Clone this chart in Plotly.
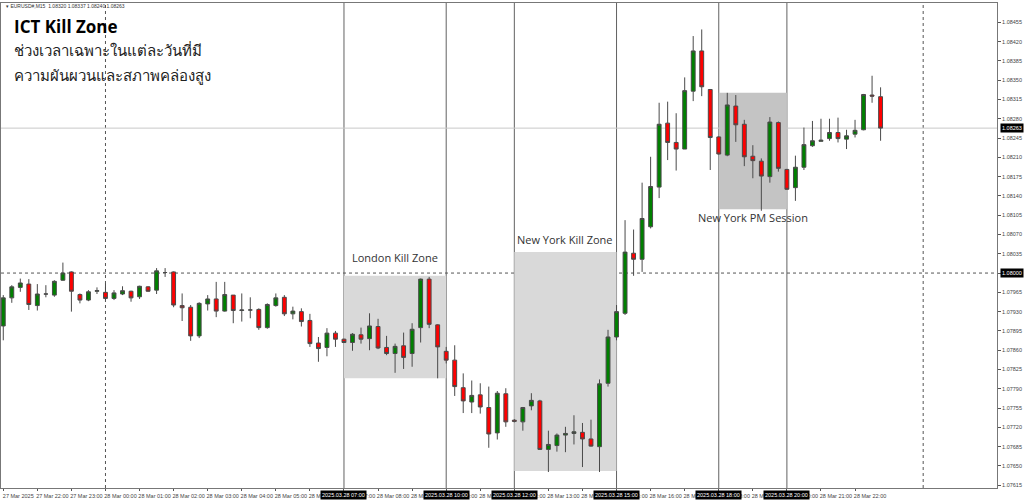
import pandas as pd
import plotly.graph_objects as go

# ---------------- data ----------------
START = "2025-03-27 21:00"   # first M15 bar
OPEN = [1.07904, 1.07955, 1.07974, 1.07980, 1.07941, 1.07962, 1.07960, 1.07987, 1.08002, 1.07961,
        1.07951, 1.07967, 1.07965, 1.07954, 1.07962, 1.07967, 1.07957, 1.07975, 1.07969, 1.08001,
        1.08002, 1.07941, 1.07938, 1.07886, 1.07944, 1.07953, 1.07931, 1.07960, 1.07932, 1.07933,
        1.07934, 1.07901, 1.07941, 1.07956, 1.07926, 1.07930, 1.07914, 1.07873, 1.07865, 1.07891,
        1.07880, 1.07874, 1.07888, 1.07881, 1.07903, 1.07865, 1.07854, 1.07868, 1.07854, 1.07901,
        1.07989, 1.07906, 1.07858, 1.07842, 1.07792, 1.07766, 1.07779, 1.07756, 1.07710, 1.07781,
        1.07733, 1.07730, 1.07759, 1.07768, 1.07680, 1.07687, 1.07706, 1.07709, 1.07711, 1.07699,
        1.07685, 1.07800, 1.07884, 1.07927, 1.08036, 1.08025, 1.08084, 1.08156, 1.08272, 1.08237,
        1.08225, 1.08330, 1.08403, 1.08333, 1.08247, 1.08214, 1.08303, 1.08270, 1.08212, 1.08203,
        1.08175, 1.08273, 1.08188, 1.08155, 1.08192, 1.08231, 1.08239, 1.08244, 1.08255, 1.08243,
        1.08252, 1.08260, 1.08323, 1.08320]
HIGH = [1.07960, 1.07978, 1.07990, 1.07989, 1.07980, 1.07978, 1.07987, 1.08019, 1.08003, 1.07963,
        1.07969, 1.07974, 1.07981, 1.07969, 1.07976, 1.07968, 1.07977, 1.07976, 1.08009, 1.08009,
        1.08003, 1.07963, 1.07942, 1.07947, 1.07960, 1.07984, 1.07984, 1.07960, 1.07963, 1.07956,
        1.07936, 1.07945, 1.07963, 1.07960, 1.07939, 1.07936, 1.07926, 1.07884, 1.07900, 1.07895,
        1.07881, 1.07891, 1.07901, 1.07927, 1.07917, 1.07886, 1.07872, 1.07892, 1.07909, 1.07990,
        1.07993, 1.07907, 1.07866, 1.07869, 1.07818, 1.07805, 1.07800, 1.07794, 1.07786, 1.07791,
        1.07735, 1.07757, 1.07782, 1.07770, 1.07714, 1.07709, 1.07721, 1.07742, 1.07728, 1.07734,
        1.07807, 1.07897, 1.07942, 1.08096, 1.08079, 1.08164, 1.08211, 1.08309, 1.08311, 1.08290,
        1.08355, 1.08430, 1.08442, 1.08334, 1.08248, 1.08327, 1.08323, 1.08278, 1.08232, 1.08208,
        1.08283, 1.08275, 1.08189, 1.08213, 1.08264, 1.08276, 1.08280, 1.08280, 1.08282, 1.08260,
        1.08278, 1.08325, 1.08358, 1.08337]
LOW = [1.07878, 1.07946, 1.07966, 1.07933, 1.07932, 1.07956, 1.07957, 1.07986, 1.07930, 1.07945,
       1.07949, 1.07962, 1.07951, 1.07951, 1.07960, 1.07948, 1.07953, 1.07966, 1.07962, 1.07993,
       1.07938, 1.07913, 1.07877, 1.07882, 1.07932, 1.07920, 1.07930, 1.07909, 1.07912, 1.07918,
       1.07897, 1.07899, 1.07939, 1.07922, 1.07916, 1.07903, 1.07866, 1.07839, 1.07849, 1.07866,
       1.07873, 1.07859, 1.07872, 1.07860, 1.07862, 1.07851, 1.07819, 1.07826, 1.07830, 1.07874,
       1.07900, 1.07809, 1.07836, 1.07777, 1.07746, 1.07746, 1.07745, 1.07683, 1.07698, 1.07721,
       1.07729, 1.07714, 1.07751, 1.07679, 1.07639, 1.07676, 1.07675, 1.07689, 1.07648, 1.07685,
       1.07639, 1.07794, 1.07878, 1.07924, 1.07995, 1.08002, 1.08081, 1.08136, 1.08205, 1.08186,
       1.08225, 1.08312, 1.08321, 1.08187, 1.08215, 1.08212, 1.08238, 1.08194, 1.08172, 1.08113,
       1.08164, 1.08184, 1.08151, 1.08131, 1.08187, 1.08229, 1.08239, 1.08240, 1.08237, 1.08225,
       1.08246, 1.08259, 1.08309, 1.08240]
CLOSE = [1.07955, 1.07975, 1.07982, 1.07943, 1.07962, 1.07962, 1.07985, 1.08000, 1.07967, 1.07951,
         1.07966, 1.07968, 1.07954, 1.07964, 1.07968, 1.07955, 1.07976, 1.07967, 1.08004, 1.08001,
         1.07942, 1.07937, 1.07886, 1.07945, 1.07953, 1.07931, 1.07961, 1.07932, 1.07933, 1.07933,
         1.07901, 1.07943, 1.07955, 1.07926, 1.07931, 1.07912, 1.07872, 1.07863, 1.07891, 1.07880,
         1.07874, 1.07889, 1.07880, 1.07904, 1.07864, 1.07854, 1.07867, 1.07847, 1.07898, 1.07989,
         1.07907, 1.07866, 1.07842, 1.07794, 1.07768, 1.07778, 1.07757, 1.07708, 1.07782, 1.07730,
         1.07731, 1.07756, 1.07769, 1.07680, 1.07689, 1.07706, 1.07709, 1.07712, 1.07699, 1.07686,
         1.07799, 1.07884, 1.07930, 1.08038, 1.08025, 1.08099, 1.08157, 1.08270, 1.08237, 1.08225,
         1.08331, 1.08403, 1.08338, 1.08246, 1.08216, 1.08305, 1.08269, 1.08211, 1.08204, 1.08176,
         1.08274, 1.08190, 1.08152, 1.08192, 1.08233, 1.08240, 1.08241, 1.08255, 1.08244, 1.08249,
         1.08259, 1.08324, 1.08321, 1.08263]

PRICE_TICKS = [1.07615, 1.07650, 1.07685, 1.07720, 1.07755, 1.07790, 1.07825, 1.07860, 1.07895,
               1.07930, 1.07965, 1.08000, 1.08035, 1.08070, 1.08105, 1.08140, 1.08175, 1.08210,
               1.08245, 1.08280, 1.08315, 1.08350, 1.08385, 1.08420, 1.08455]
CURRENT_PRICE = 1.08263
LEVEL_LINE = 1.08000

ZONES = [  # name, start, end, low, high, fill, label price
    ("London Kill Zone", "2025-03-28 07:00", "2025-03-28 10:00", 1.07809, 1.07995, "#d9d9d9", 1.08029),
    ("New York Kill Zone", "2025-03-28 12:00", "2025-03-28 15:00", 1.07641, 1.08038, "#d9d9d9", 1.08060),
    ("New York PM Session", "2025-03-28 18:00", "2025-03-28 20:00", 1.08116, 1.08327, "#c4c4c4", 1.08100),
]
DAY_SEPARATORS = ["2025-03-28 00:00", "2025-03-29 00:00"]
X_RANGE = ["2025-03-27 20:56", "2025-03-29 02:10"]
Y_RANGE = [1.07610, 1.08490]

times = pd.date_range(START, periods=len(OPEN), freq="15min")

SMALL = "Liberation Sans, Arial, sans-serif"

# ---------------- figure ----------------
fig = go.Figure()
fig.add_trace(go.Candlestick(
    x=times, open=OPEN, high=HIGH, low=LOW, close=CLOSE,
    increasing=dict(line=dict(color="#4a4a4a", width=1), fillcolor="#008000"),
    decreasing=dict(line=dict(color="#4a4a4a", width=1), fillcolor="#ff0000"),
    whiskerwidth=0, showlegend=False, hoverinfo="skip",
))

# zones
for name, t0, t1, lo, hi, fill, lab_y in ZONES:
    fig.add_shape(type="rect", xref="x", yref="y", x0=t0, x1=t1, y0=lo, y1=hi,
                  fillcolor=fill, line=dict(width=0), layer="below")
    for t in (t0, t1):
        fig.add_shape(type="line", xref="x", yref="paper", x0=t, x1=t, y0=0, y1=1,
                      line=dict(color="#626262", width=1), layer="below")
    mid = pd.Timestamp(t0) + (pd.Timestamp(t1) - pd.Timestamp(t0)) / 2
    fig.add_annotation(x=mid, y=lab_y, xref="x", yref="y", text=name, showarrow=False,
                       font=dict(family="Open Sans, sans-serif", size=11, color="#333333"))
    for t in (t0, t1):
        fig.add_annotation(x=t, y=0, xref="x", yref="paper", yanchor="top", yshift=-2,
                           text=pd.Timestamp(t).strftime("%Y.%m.%d %H:%M"), showarrow=False,
                           bgcolor="#000000", borderpad=1,
                           font=dict(family=SMALL, size=5.5, color="#ffffff"))

for t in DAY_SEPARATORS:
    fig.add_shape(type="line", xref="x", yref="paper", x0=t, x1=t, y0=0, y1=1,
                  line=dict(color="#555555", width=1, dash="dot"), layer="below")

fig.add_shape(type="line", xref="paper", yref="y", x0=0, x1=1, y0=CURRENT_PRICE, y1=CURRENT_PRICE,
              line=dict(color="#c8c8c8", width=1), layer="below")
fig.add_shape(type="line", xref="paper", yref="y", x0=0, x1=1, y0=LEVEL_LINE, y1=LEVEL_LINE,
              line=dict(color="#555555", width=1, dash="dot"), layer="below")

for p in (CURRENT_PRICE, LEVEL_LINE):
    fig.add_annotation(x=1, y=p, xref="paper", yref="y", xanchor="left", xshift=3,
                       text=f"{p:.5f}", showarrow=False, bgcolor="#000000", borderpad=1,
                       font=dict(family=SMALL, size=5.5, color="#ffffff"))

# title texts
fig.add_annotation(x=0, y=1, xref="paper", yref="paper", xanchor="left", yanchor="middle",
                   xshift=3, yshift=-3, showarrow=False,
                   text="▾ EURUSD#,M15  1.08320 1.08337 1.08240 1.08263",
                   font=dict(family=SMALL, size=5, color="#333333"))
fig.add_annotation(x=0, y=1, xref="paper", yref="paper", xanchor="left", yanchor="middle",
                   xshift=11, yshift=-23, showarrow=False, text="<b>ICT Kill Zone</b>",
                   font=dict(family="Open Sans, sans-serif", size=17, color="#000000"))
fig.add_annotation(x=0, y=1, xref="paper", yref="paper", xanchor="left", yanchor="middle",
                   xshift=11, yshift=-47, showarrow=False, text="ช่วงเวลาเฉพาะในแต่ละวันที่มี",
                   font=dict(family="Tahoma, Noto Sans, sans-serif", size=15, color="#222222"))
fig.add_annotation(x=0, y=1, xref="paper", yref="paper", xanchor="left", yanchor="middle",
                   xshift=11, yshift=-72, showarrow=False, text="ความผันผวนและสภาพคล่องสูง",
                   font=dict(family="Tahoma, Noto Sans, sans-serif", size=15, color="#222222"))

# x ticks (hourly)
tick_times = pd.date_range("2025-03-27 21:00", "2025-03-28 22:00", freq="h")
tick_text = [t.strftime("%d Mar %H:%M").lstrip("0") for t in tick_times]
tick_text[0] = "27 Mar 2025"

fig.update_layout(
    width=1024, height=501,
    margin=dict(l=1, r=27, t=3, b=13),
    paper_bgcolor="#ffffff", plot_bgcolor="#ffffff",
    xaxis=dict(range=X_RANGE, type="date", rangeslider=dict(visible=False),
               tickvals=list(tick_times), ticktext=tick_text, ticklabelshift=15,
               tickangle=0, ticks="outside", ticklen=2, tickcolor="#555555",
               tickfont=dict(family=SMALL, size=5.5, color="#444444"),
               showgrid=False, zeroline=False, showline=True, linecolor="#777777",
               mirror=True, linewidth=1),
    yaxis=dict(range=Y_RANGE, side="right", tickvals=PRICE_TICKS,
               ticktext=[f"{v:.5f}" for v in PRICE_TICKS],
               ticks="outside", ticklen=3, tickcolor="#555555",
               tickfont=dict(family=SMALL, size=5.5, color="#444444"),
               showgrid=False, zeroline=False, showline=True, linecolor="#777777",
               mirror=True, linewidth=1),
    boxgap=0.35,
)

fig.write_html("out.html", config={"displayModeBar": False},
               post_script="document.body.style.margin='0';")
